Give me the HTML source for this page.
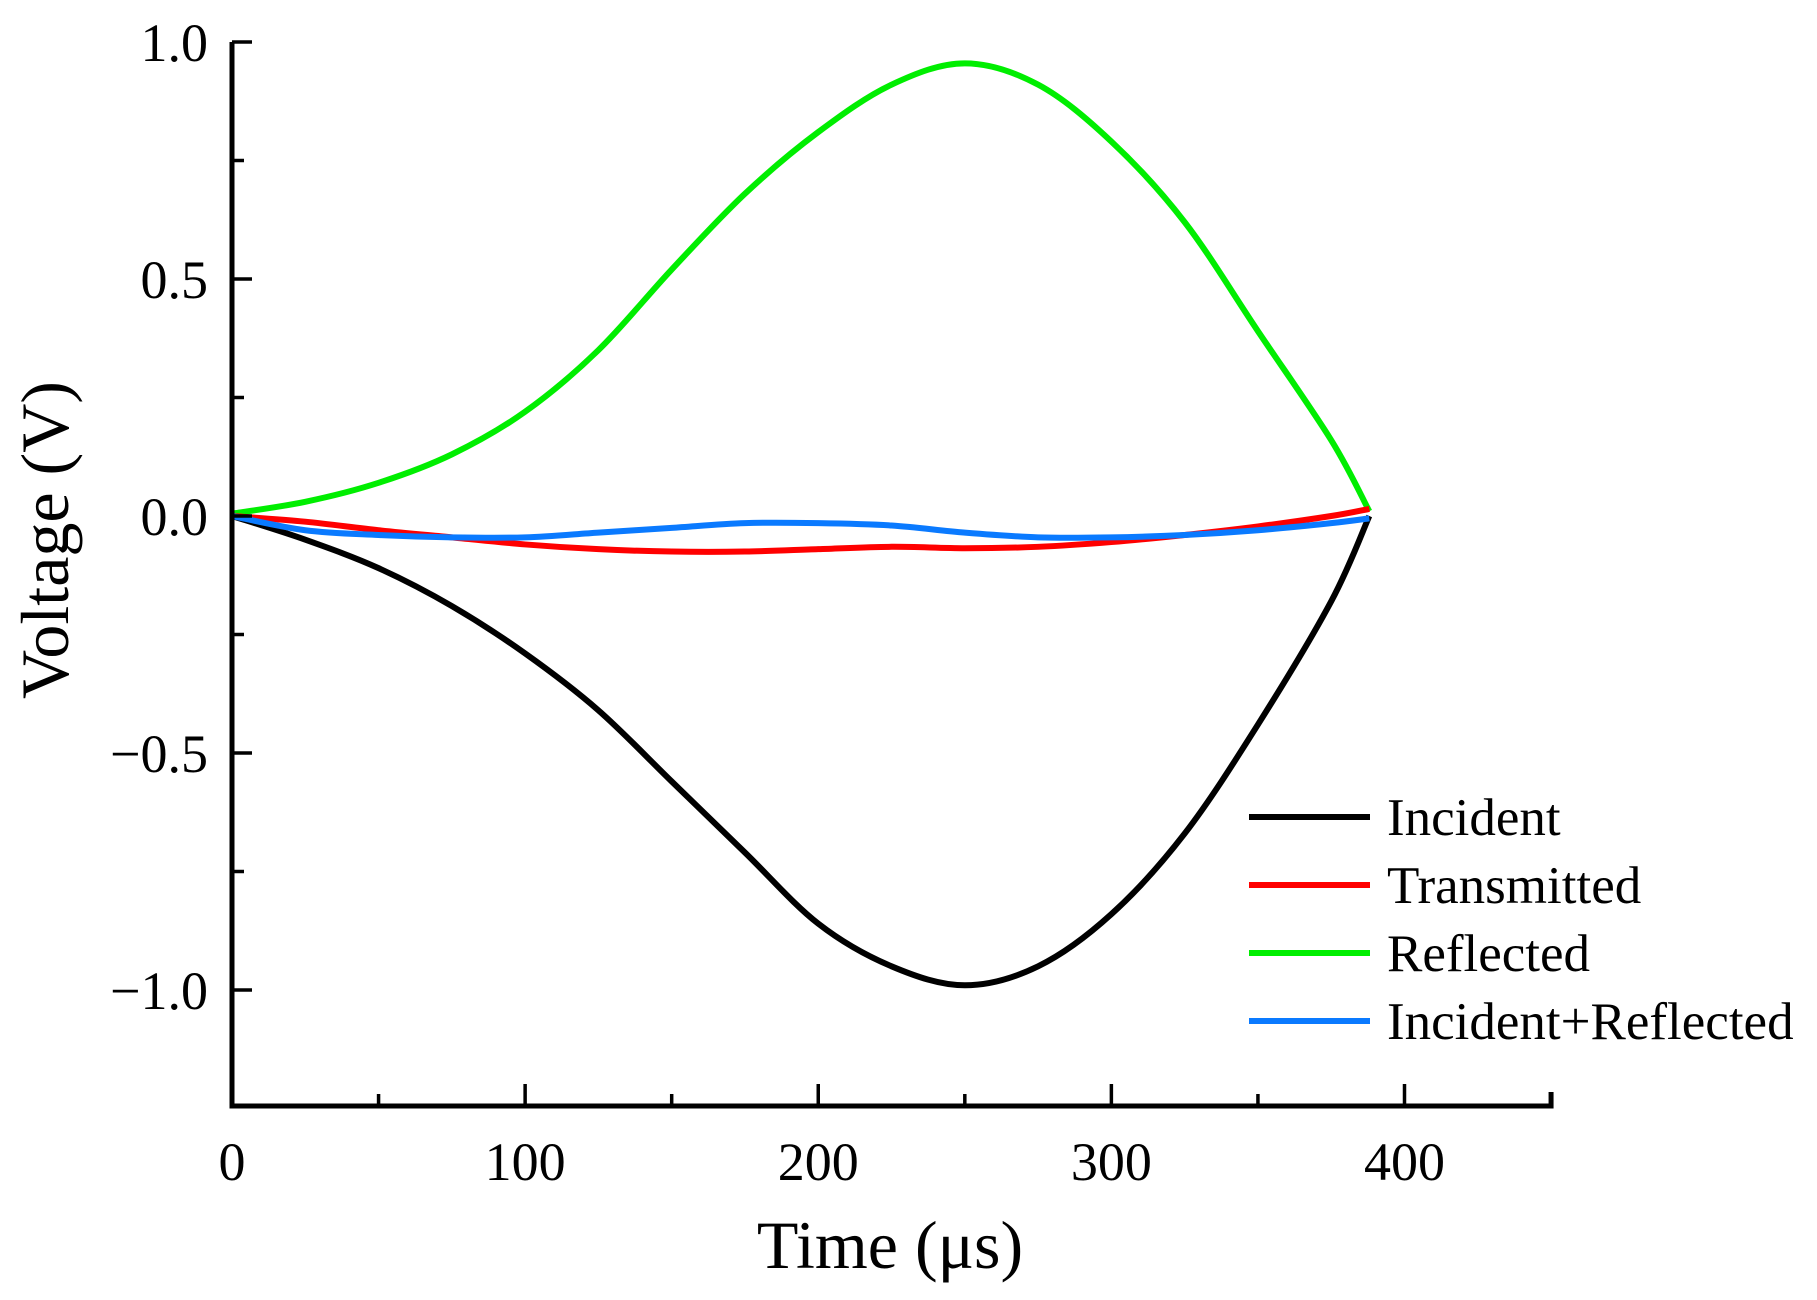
<!DOCTYPE html>
<html><head><meta charset="utf-8"><style>
body{margin:0;background:#fff;}
svg{display:block;font-family:"Liberation Serif",serif;}
</style></head><body>
<svg id="chart" width="1817" height="1300">
<g id="plot"></g>
</svg>
<script>
const times=[0,25,50,75,100,125,150,175,200,225,250,275,300,325,350,375,388];
const incident=[0,-0.05,-0.11,-0.19,-0.29,-0.41,-0.56,-0.71,-0.86,-0.95,-0.99,-0.95,-0.84,-0.67,-0.44,-0.18,0];
const transmitted=[0,-0.012,-0.03,-0.045,-0.06,-0.07,-0.075,-0.075,-0.07,-0.065,-0.068,-0.065,-0.055,-0.04,-0.022,0,0.015];
const reflected=[0.005,0.03,0.07,0.13,0.22,0.35,0.52,0.68,0.81,0.91,0.955,0.91,0.79,0.62,0.39,0.16,0.01];
const incRefl=[0,-0.03,-0.04,-0.045,-0.045,-0.035,-0.025,-0.015,-0.015,-0.02,-0.035,-0.045,-0.045,-0.04,-0.03,-0.015,-0.005];
const xTicks=[0,100,200,300,400];
const yTicks=[1.0,0.5,0.0,-0.5,-1.0];
const yTickLabels=["1.0","0.5","0.0","\u22120.5","\u22121.0"];
const seriesNames=["Incident","Transmitted","Reflected","Incident+Reflected"];
const seriesColors=["#000000","#ff0000","#00ee00","#0a7aff"];

const X0=232,X1=1404.5,Y0=516,Y1=42;
const sx=v=>X0+(X1-X0)*v/400;
const sy=v=>Y0+(Y1-Y0)*v;
const NS="http://www.w3.org/2000/svg";
const g=document.getElementById('plot');
function mk(t,a,p){const e=document.createElementNS(NS,t);for(const k in a)e.setAttribute(k,a[k]);(p||g).appendChild(e);return e;}
function smooth(xs,ys){
  const P=xs.map((x,i)=>[sx(x),sy(ys[i])]);
  let d=`M${P[0][0]},${P[0][1]}`;
  for(let i=0;i<P.length-1;i++){
    const p0=P[Math.max(0,i-1)],p1=P[i],p2=P[i+1],p3=P[Math.min(P.length-1,i+2)];
    const c1=[p1[0]+(p2[0]-p0[0])/6,p1[1]+(p2[1]-p0[1])/6];
    const c2=[p2[0]-(p3[0]-p1[0])/6,p2[1]-(p3[1]-p1[1])/6];
    d+=`C${c1[0]},${c1[1]} ${c2[0]},${c2[1]} ${p2[0]},${p2[1]}`;
  }
  return d;
}
const data=[incident,transmitted,reflected,incRefl];
const order=[0,2,1,3];
order.forEach(i=>{
  const p=mk('path',{d:smooth(times,data[i]),fill:'none',stroke:seriesColors[i],'stroke-width':6,'stroke-linejoin':'round'});
  
  
});
const yBot=1106;
const ax=mk('path',{d:`M${X0},${Y1} V${yBot} H${sx(450)} V${yBot-14}`,fill:'none',stroke:'#000','stroke-width':5});


for(let v=50;v<450;v+=50){
  const len=(v%100===0)?22:12;
  const t=mk('line',{x1:sx(v),x2:sx(v),y1:yBot,y2:yBot-len,stroke:'#000','stroke-width':3.5});
  
  
}
for(let k=-4;k<=4;k++){
  const v=k*0.25;
  const major=k%2===0;
  const t=mk('line',{x1:X0,x2:X0+(major?20:12),y1:sy(v),y2:sy(v),stroke:'#000','stroke-width':3.5});
  
  
}
xTicks.forEach(v=>{
  const t=mk('text',{x:sx(v),y:1180,'font-size':54,'text-anchor':'middle'});
  t.textContent=v;
  
  
});
yTicks.forEach((v,i)=>{
  const t=mk('text',{x:208,y:sy(v)+19,'font-size':54,'text-anchor':'end'});
  t.textContent=yTickLabels[i];
  
  
});
const xt=mk('text',{x:890,y:1268,'font-size':68,'text-anchor':'middle'});
xt.textContent='Time (\u03bcs)';


const yt=mk('text',{x:0,y:0,'font-size':68,'text-anchor':'middle',transform:'translate(68,540) rotate(-90)'});
yt.textContent='Voltage (V)';


seriesNames.forEach((n,i)=>{
  const y=817+i*68;
  const l=mk('line',{x1:1249,x2:1370,y1:y,y2:y,stroke:seriesColors[i],'stroke-width':6});
  
  
  const t=mk('text',{x:1387,y:y+18,'font-size':53});
  t.textContent=n;
  
  
});
</script>
</body></html>
